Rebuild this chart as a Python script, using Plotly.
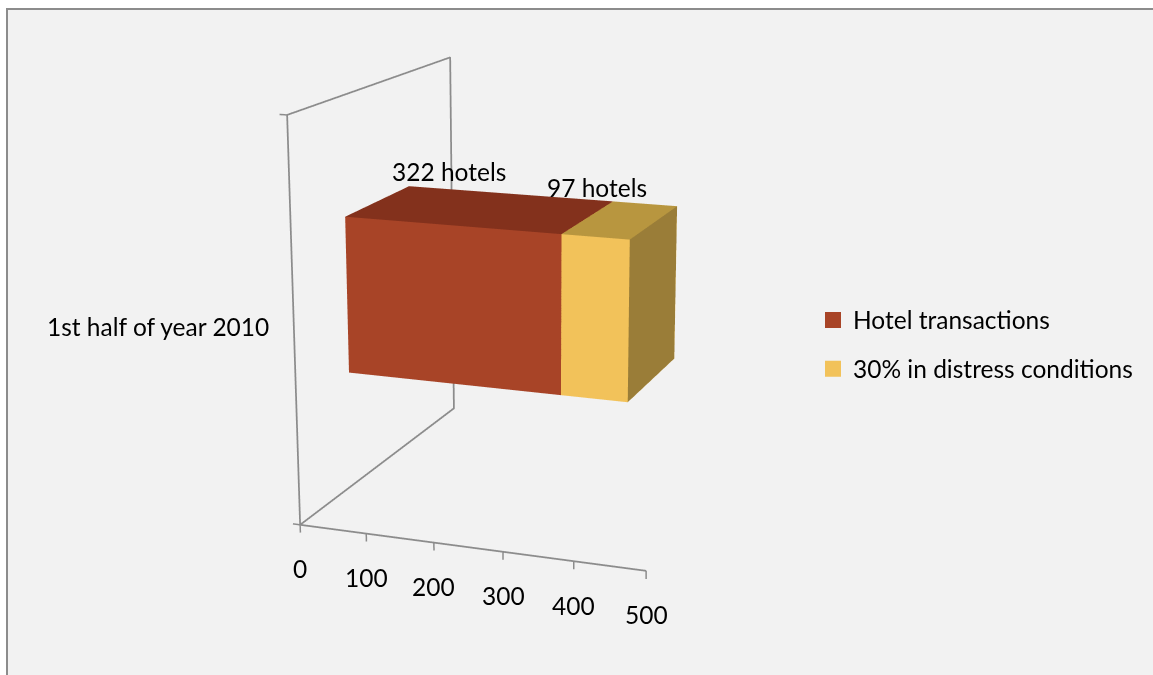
import plotly.graph_objects as go

# Chart data
categories = ["1st half of year 2010"]
hotel_transactions = [322]
distress_conditions = [97]
value_ticks = [0, 100, 200, 300, 400, 500]
series_names = ["Hotel transactions", "30% in distress conditions"]
label_suffix = " hotels"

# Palette
RED_FRONT, RED_TOP = "#A84427", "#83311C"
GOLD_FRONT, GOLD_TOP, GOLD_SIDE = "#F2C25A", "#B8963F", "#9A7D38"
LINE = "#8c8c8c"
PANEL = "#F2F2F2"

W, H = 1153, 675

# Bar extent across the depth and height of the category slot
BAR_Y = (0.30065, 0.70236)
BAR_Z = (0.30052, 0.70014)

# Oblique view: axes are sheared before the scene camera looks at them
SHEAR_XY, SHEAR_XZ, SHEAR_YZ = 146.87635, -43.82621, 1.00139
X_RANGE, Y_RANGE, Z_RANGE = [-70, 660], [-0.2, 2.2], [-0.2, 1.1]
ASPECT = dict(x=1.46, y=1.3596, z=1.30295)
CAMERA = dict(
    eye=dict(x=0.44917, y=-2.00367, z=1.36657),
    center=dict(x=0.12986, y=-0.03215, z=-0.08088),
    up=dict(x=-0.09569, y=0.57897, z=0.80971),
)


def place(x, y, z):
    return x + SHEAR_XY * y + SHEAR_XZ * z, y + SHEAR_YZ * z, z


fig = go.Figure()


def polyline(points, width=3.5):
    xs, ys, zs = zip(*[place(*q) for q in points])
    fig.add_trace(go.Scatter3d(x=xs, y=ys, z=zs, mode="lines", line=dict(color=LINE, width=width),
                               showlegend=False, hoverinfo="skip"))


# Side wall with the value axis running off its lower corner, plus tick marks
polyline([(0, 0, 0), (0, 0, 1), (0, 1, 1), (0, 1, 0), (0, 0, 0), (value_ticks[-1], 0, 0)])
for tick in value_ticks:
    polyline([(tick, 0, 0), (tick, 0, -0.02)], 3)
polyline([(0, 0, 0), (-11, 0, 0)], 3)
polyline([(0, 0, 1), (-11, 0, 1)], 3)


def stacked_box(start, stop, front, top, side):
    corners = [place(x, y, z) for z in BAR_Z
               for x, y in ((start, BAR_Y[0]), (stop, BAR_Y[0]), (stop, BAR_Y[1]), (start, BAR_Y[1]))]
    xs, ys, zs = zip(*corners)
    fig.add_trace(go.Mesh3d(
        x=xs, y=ys, z=zs,
        i=[0, 0, 4, 4, 1, 1, 0, 0, 2, 2, 3, 3],
        j=[1, 5, 5, 6, 2, 6, 2, 1, 3, 7, 0, 4],
        k=[5, 4, 6, 7, 6, 5, 1, 3, 7, 6, 4, 7],
        facecolor=[front, front, top, top, side, side] + [front] * 6,
        flatshading=True,
        lighting=dict(ambient=1, diffuse=0, specular=0, fresnel=0, roughness=1),
        showlegend=False, hoverinfo="skip",
    ))


hotels = hotel_transactions[0]
distress = distress_conditions[0]
stacked_box(0, hotels, RED_FRONT, RED_TOP, RED_TOP)
stacked_box(hotels, hotels + distress, GOLD_FRONT, GOLD_TOP, GOLD_SIDE)

# Legend entries
for name, color, group in zip(series_names, (RED_FRONT, GOLD_FRONT), "ab"):
    fig.add_trace(go.Scatter3d(x=[None], y=[None], z=[None], mode="markers", name=name, legendgroup=group,
                               marker=dict(symbol="square", size=16, color=color)))


def label(x, y, z, text, xshift=0, yshift=0, anchor="center"):
    sx, sy, sz = place(x, y, z)
    return dict(x=sx, y=sy, z=sz, text=text, showarrow=False, xshift=xshift, yshift=yshift,
                xanchor=anchor, yanchor="middle")


notes = [label(t, 0, 0, str(t), 0, -44) for t in value_ticks]
notes.append(label(hotels / 2, BAR_Y[1], BAR_Z[1], f"{hotels}{label_suffix}", -60.5, 22))
notes.append(label(hotels + distress / 2, BAR_Y[1], BAR_Z[1], f"{distress}{label_suffix}", -48, 16))
notes.append(label(0, 0, 0.5, categories[0], -23, -1, "right"))

fig.update_layout(
    width=W, height=H, margin=dict(l=0, r=0, t=0, b=0), paper_bgcolor="white",
    showlegend=True, font=dict(family="Lato", size=24.5, color="black"),
    legend=dict(x=813 / W, y=1 - 297.5 / H, xanchor="left", yanchor="top", tracegroupgap=14,
                bgcolor="rgba(0,0,0,0)"),
    shapes=[dict(type="rect", xref="paper", yref="paper", x0=7 / W, x1=1.05, y0=-0.05, y1=1 - 9 / H,
                 fillcolor=PANEL, line=dict(color=LINE, width=2), layer="below")],
    scene=dict(
        domain=dict(x=[0, 1], y=[0, 1]), bgcolor="rgba(0,0,0,0)", aspectmode="manual",
        aspectratio=ASPECT, camera=CAMERA, annotations=notes,
        xaxis=dict(visible=False, range=X_RANGE),
        yaxis=dict(visible=False, range=Y_RANGE),
        zaxis=dict(visible=False, range=Z_RANGE),
    ),
)
fig.write_html("out.html")
